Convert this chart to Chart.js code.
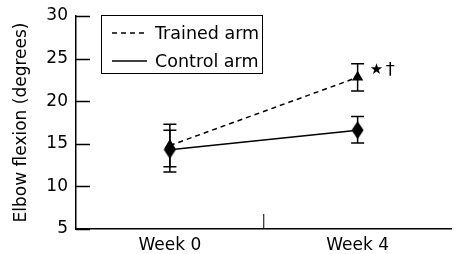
<!DOCTYPE html>
<html>
<head>
<meta charset="utf-8">
<script src="https://cdn.jsdelivr.net/npm/chart.js@4/dist/chart.umd.min.js"></script>
<style>
  html, body { margin: 0; padding: 0; background: #fff; }
  #wrap { width: 458px; height: 254px; }
</style>
</head>
<body>
<div id="wrap"><canvas id="myChart"></canvas></div>
<script>
// values
var categories = ['Week 0', 'Week 4'];
var trainedMean = [14.8, 22.8];
var trainedLow = [12.3, 21.2];
var trainedHigh = [17.3, 24.4];
var controlMean = [14.3, 16.6];
var controlLow = [11.7, 15.1];
var controlHigh = [16.6, 18.2];
var seriesNames = ['Trained arm', 'Control arm'];
var yTicks = [5, 10, 15, 20, 25, 30];

var FONT = 'DejaVu Sans';

// tall diamond marker for the control arm
var diamond = document.createElement('canvas');
diamond.width = 13;
diamond.height = 19;
var dctx = diamond.getContext('2d');
dctx.fillStyle = '#000';
dctx.beginPath();
dctx.moveTo(6.5, 0.5);
dctx.lineTo(12.5, 9.5);
dctx.lineTo(6.5, 18.5);
dctx.lineTo(0.5, 9.5);
dctx.closePath();
dctx.fill();

var errorBars = {
    id: 'errorBars',
    beforeDatasetsDraw: function(chart) {
        var c = chart.ctx;
        var x = chart.scales.x, y = chart.scales.y;
        var sets = [[trainedLow, trainedHigh], [controlLow, controlHigh]];
        c.save();
        c.strokeStyle = '#000';
        c.lineWidth = 1.5;
        sets.forEach(function(s) {
            for (var i = 0; i < categories.length; i++) {
                var px = x.getPixelForValue(i);
                var lo = y.getPixelForValue(s[0][i]);
                var hi = y.getPixelForValue(s[1][i]);
                c.beginPath();
                c.moveTo(px, lo); c.lineTo(px, hi);
                c.moveTo(px - 6.5, lo); c.lineTo(px + 6.5, lo);
                c.moveTo(px - 6.5, hi); c.lineTo(px + 6.5, hi);
                c.stroke();
            }
        });
        c.restore();
    }
};

var decorations = {
    id: 'decorations',
    afterDraw: function(chart) {
        var c = chart.ctx;
        var a = chart.chartArea;
        var x = chart.scales.x, y = chart.scales.y;
        c.save();
        c.strokeStyle = '#000';
        c.lineWidth = 1.5;
        // inward ticks
        yTicks.forEach(function(v) {
            var py = Math.round(y.getPixelForValue(v)) + 0.5;
            c.beginPath();
            c.moveTo(a.left, py); c.lineTo(a.left + 14, py);
            c.stroke();
        });
        var mid = (x.getPixelForValue(0) + x.getPixelForValue(1)) / 2;
        c.lineWidth = 1;
        c.beginPath();
        c.moveTo(mid, a.bottom); c.lineTo(mid, a.bottom - 15);
        c.stroke();

        // significance marks next to trained arm week 4
        var sx = x.getPixelForValue(1), sy = y.getPixelForValue(trainedMean[1]);
        c.fillStyle = '#000';
        c.textBaseline = 'middle';
        c.font = '15px ' + FONT;
        c.fillText('\u2605', sx + 12, sy - 7);
        c.font = '18px ' + FONT;
        c.fillText('\u2020', sx + 28, sy - 7);

        // legend box
        c.lineWidth = 1;
        c.strokeRect(101.5, 15.5, 161, 58);
        c.font = '17.5px ' + FONT;
        c.textBaseline = 'middle';
        var rows = [33, 61];
        chart.data.datasets.forEach(function(ds, i) {
            c.lineWidth = 1.5;
            c.setLineDash(ds.borderDash || []);
            c.beginPath();
            c.moveTo(112, rows[i]); c.lineTo(147, rows[i]);
            c.stroke();
            c.setLineDash([]);
            c.fillText(ds.label, 155, rows[i] + 1);
        });
        c.restore();
    }
};

var ctx = document.getElementById('myChart').getContext('2d');
var chart = new Chart(ctx, {
    type: 'line',
    data: {
        labels: categories,
        datasets: [{
            label: seriesNames[0],
            data: trainedMean,
            borderColor: '#000',
            backgroundColor: '#000',
            borderWidth: 1.5,
            borderDash: [5, 4],
            pointStyle: 'triangle',
            pointRadius: 6.5,
            pointBorderWidth: 0,
            fill: false
        }, {
            label: seriesNames[1],
            data: controlMean,
            borderColor: '#000',
            backgroundColor: '#000',
            borderWidth: 1.5,
            pointStyle: diamond,
            fill: false
        }]
    },
    options: {
        responsive: true,
        maintainAspectRatio: false,
        animation: false,
        layout: { padding: { left: 0, right: 1, top: 16, bottom: 0 } },
        plugins: {
            legend: { display: false },
            tooltip: { enabled: false }
        },
        scales: {
            x: {
                offset: true,
                grid: { display: false },
                border: { display: true, color: '#000', width: 1.5 },
                ticks: { color: '#000', font: { family: FONT, size: 17 }, padding: -2 },
                afterFit: function(s) { s.height = 25; }
            },
            y: {
                min: 5,
                max: 30,
                afterBuildTicks: function(s) { s.ticks = yTicks.map(function(v) { return { value: v }; }); },
                grid: { display: false },
                border: { display: true, color: '#000', width: 1.5 },
                ticks: { color: '#000', font: { family: FONT, size: 17 }, padding: 0 },
                title: {
                    display: true,
                    text: 'Elbow flexion (degrees)',
                    color: '#000',
                    font: { family: FONT, size: 17 },
                    padding: { top: 11, bottom: 0 }
                },
                afterFit: function(s) { s.width = 76; }
            }
        }
    },
    plugins: [errorBars, decorations]
});
</script>
</body>
</html>
